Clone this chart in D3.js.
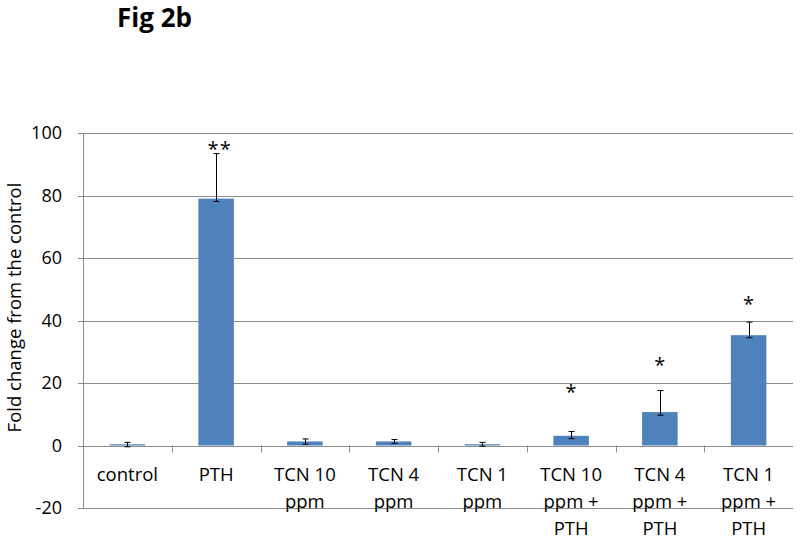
<!DOCTYPE html>
<html>
<head>
<meta charset="utf-8">
<script src="https://cdn.jsdelivr.net/npm/d3@7"></script>
<style>
  html, body { margin: 0; padding: 0; background: #fff; }
  svg { display: block; }
  text { font-family: "Open Sans", "Noto Sans", sans-serif; fill: #000; }
</style>
</head>
<body>
<script>
// ---- data ----
const categories = ["control", "PTH", "TCN 10 ppm", "TCN 4 ppm", "TCN 1 ppm",
  "TCN 10 ppm + PTH", "TCN 4 ppm + PTH", "TCN 1 ppm + PTH"];
const categoryLines = [
  ["control"], ["PTH"], ["TCN 10", "ppm"], ["TCN 4", "ppm"], ["TCN 1", "ppm"],
  ["TCN 10", "ppm +", "PTH"], ["TCN 4", "ppm +", "PTH"], ["TCN 1", "ppm +", "PTH"]
];
const values  = [0.4, 79.0, 1.3, 1.3, 0.4, 3.1, 10.7, 35.3];
const errUp   = [0.6, 14.4, 0.8, 0.6, 0.6, 1.4, 6.9, 4.2];
const errDown = [0.8, 0.9, 0.9, 0.6, 0.6, 0.9, 1.0, 0.8];
const starLabels = ["", "**", "", "", "", "*", "*", "*"];
const starValues = [null, 96.0, null, null, null, 18.2, 26.6, 46.1];
const yTicks = [-20, 0, 20, 40, 60, 80, 100];
const title = "Fig 2b";
const yTitle = "Fold change from the control";

// ---- layout ----
const W = 800, H = 540;
const plot = { left: 83, right: 793, top: 133, bottom: 508 };

const svg = d3.select("body").append("svg").attr("width", W).attr("height", H);

const x = d3.scaleBand().domain(categories).range([plot.left, plot.right])
  .paddingInner(0.6).paddingOuter(0.3);
const xBand = d3.scaleBand().domain(categories).range([plot.left, plot.right]).padding(0);
const y = d3.scaleLinear().domain([-20, 100]).range([plot.bottom, plot.top]);

const grid = "#8c8c8c";

// gridlines
svg.append("g").selectAll("line").data(yTicks).join("line")
  .attr("x1", plot.left - 5).attr("x2", plot.right)
  .attr("y1", d => Math.round(y(d)) + 0.5).attr("y2", d => Math.round(y(d)) + 0.5)
  .attr("stroke", grid).attr("stroke-width", 1);

// y axis line
svg.append("line")
  .attr("x1", plot.left + 0.5).attr("x2", plot.left + 0.5)
  .attr("y1", y(100)).attr("y2", y(-20))
  .attr("stroke", grid);

// y tick labels
svg.append("g").selectAll("text").data(yTicks).join("text")
  .attr("x", 62).attr("y", d => y(d))
  .attr("dy", "0.36em")
  .attr("text-anchor", "end")
  .attr("font-size", 18)
  .text(d => d);

// category ticks (below zero line)
const boundaries = categories.slice(1).map(c => xBand(c));
svg.append("g").selectAll("line").data(boundaries).join("line")
  .attr("x1", d => Math.round(d) + 0.5).attr("x2", d => Math.round(d) + 0.5)
  .attr("y1", y(0)).attr("y2", y(0) + 7)
  .attr("stroke", grid);

// bars
svg.append("g").selectAll("rect").data(values).join("rect")
  .attr("x", (d, i) => x(categories[i]))
  .attr("width", x.bandwidth())
  .attr("y", d => y(Math.max(0, d)))
  .attr("height", d => Math.abs(y(d) - y(0)))
  .attr("fill", "#4f81bd");

// error bars
const eb = svg.append("g").attr("stroke", "#000").attr("stroke-width", 1);
values.forEach((v, i) => {
  const cx = Math.round(x(categories[i]) + x.bandwidth() / 2) + 0.5;
  const yt = y(v + errUp[i]), yb = y(v - errDown[i]);
  eb.append("line").attr("x1", cx).attr("x2", cx).attr("y1", yt).attr("y2", yb);
  eb.append("line").attr("x1", cx - 3).attr("x2", cx + 3).attr("y1", yt).attr("y2", yt);
  eb.append("line").attr("x1", cx - 3).attr("x2", cx + 3).attr("y1", yb).attr("y2", yb);
});

// significance stars
const stars = svg.append("g");
starValues.forEach((v, i) => {
  if (v === null) return;
  const lab = starLabels[i];
  stars.append("text")
    .attr("x", x(categories[i]) + x.bandwidth() / 2 + (lab.length > 1 ? 3.5 : 0))
    .attr("y", y(v) + 10)
    .attr("text-anchor", "middle")
    .attr("font-size", 20)
    .attr("letter-spacing", lab.length > 1 ? 1 : 0)
    .text(lab);
});

// category labels
const lbl = svg.append("g");
categoryLines.forEach((lines, i) => {
  const cx = xBand(categories[i]) + xBand.bandwidth() / 2;
  const t = lbl.append("text").attr("text-anchor", "middle").attr("font-size", 18.5);
  lines.forEach((ln, j) => {
    t.append("tspan").attr("x", cx).attr("y", 481 + j * 27).text(ln);
  });
});

// y title
svg.append("text")
  .attr("transform", `translate(21, ${(180 + 435) / 2}) rotate(-90)`)
  .attr("text-anchor", "middle")
  .attr("font-size", 18.5)
  .text(yTitle);

// figure title
svg.append("text")
  .attr("x", 117).attr("y", 27)
  .attr("font-size", 26)
  .attr("font-weight", "bold")
  .text(title);
</script>
</body>
</html>
